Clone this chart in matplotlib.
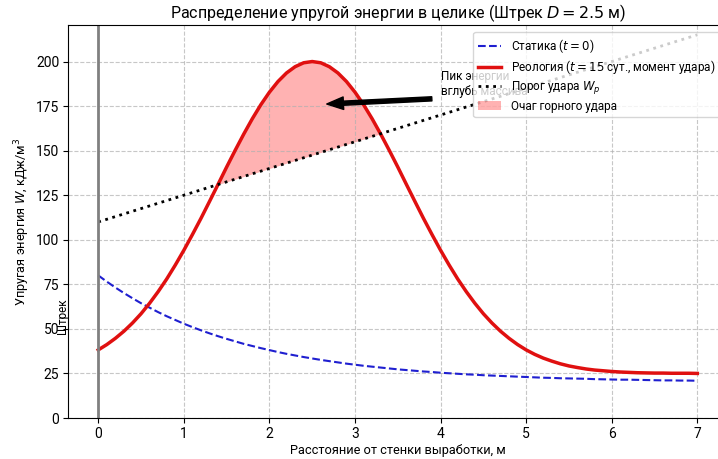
import numpy as np
import matplotlib
matplotlib.use('Agg')
import matplotlib.pyplot as plt

plt.rcParams['font.family'] = ['Roboto', 'DejaVu Sans']

# distance from the wall, m (0 .. 7 step 0.1)
dist = [round(0.1 * i, 1) for i in range(71)]

# elastic energy, kJ/m^3 -- static state
w_static = [80.0, 76.5, 73.2, 70.1, 67.2, 64.4, 61.9, 59.4, 57.1, 55.0,
            52.9, 51.0, 49.2, 47.5, 45.9, 44.4, 43.0, 41.6, 40.4, 39.2,
            38.1, 37.0, 36.0, 35.1, 34.2, 33.4, 32.6, 31.9, 31.2, 30.5,
            29.9, 29.3, 28.8, 28.3, 27.8, 27.3, 26.9, 26.5, 26.1, 25.8,
            25.4, 25.1, 24.8, 24.5, 24.3, 24.0, 23.8, 23.6, 23.4, 23.2,
            23.0, 22.8, 22.6, 22.5, 22.3, 22.2, 22.1, 22.0, 21.8, 21.7,
            21.6, 21.5, 21.5, 21.4, 21.3, 21.2, 21.1, 21.1, 21.0, 21.0,
            20.9]

# elastic energy, kJ/m^3 -- rheology, t = 15 days
w_rheo = [38.2, 41.2, 44.7, 48.7, 53.3, 58.5, 64.4, 70.9, 78.0, 85.8,
          94.1, 102.9, 112.0, 121.5, 131.1, 140.8, 150.2, 159.3, 167.9, 175.8,
          182.8, 188.8, 193.6, 197.1, 199.3, 200.0, 199.3, 197.1, 193.6, 188.8,
          182.8, 175.8, 167.9, 159.3, 150.2, 140.8, 131.1, 121.5, 112.0, 102.9,
          94.1, 85.8, 78.0, 70.9, 64.4, 58.5, 53.3, 48.7, 44.7, 41.2,
          38.2, 35.7, 33.6, 31.9, 30.4, 29.2, 28.3, 27.5, 26.9, 26.5,
          26.1, 25.8, 25.6, 25.4, 25.3, 25.2, 25.2, 25.1, 25.1, 25.1,
          25.0]

# burst threshold line
thr_x = [0.0, 7.0]
thr_y = [110.0, 215.0]

yticks = [0, 25, 50, 75, 100, 125, 150, 175, 200]

x = np.array(dist)
rheo = np.array(w_rheo)
thr = np.interp(x, thr_x, thr_y)

fig = plt.figure(figsize=(7.18, 4.59), dpi=100)
ax = fig.add_axes([68.3/718, 41/459, 659/718, 393/459])

ax.plot(dist, w_static, '--', color='#1f1fd0', lw=1.5, label='Статика ($t = 0$)')
ax.plot(dist, w_rheo, '-', color='#e01010', lw=2.5, label='Реология ($t = 15$ сут., момент удара)')
ax.plot(thr_x, thr_y, ':', color='black', lw=2, label='Порог удара $W_p$')
ax.fill_between(x, rheo, thr, where=rheo > thr, interpolate=True,
                color='red', alpha=0.3, lw=0, label='Очаг горного удара')

ax.axvline(0, color='gray', lw=2)
ax.text(-0.42, 57, 'Штрек', rotation=90, ha='center', va='center', fontsize=8.5)

ax.annotate('Пик энергии\nвглубь массива', xy=(2.6, 176), xytext=(4.0, 181),
            fontsize=8.5, arrowprops=dict(facecolor='black', shrink=0.05, width=3, headwidth=9))

ax.set_xlim(-0.35, 7.35)
ax.set_ylim(0, 220.5)
ax.set_yticks(yticks)
ax.set_xticks(range(8))
ax.grid(True, linestyle='--', alpha=0.7)
ax.tick_params(labelsize=10, pad=3)

ax.set_title('Распределение упругой энергии в целике (Штрек $D = 2.5$ м)', fontsize=11.5, pad=5)
ax.set_xlabel('Расстояние от стенки выработки, м', fontsize=9.2, labelpad=2)
ax.set_ylabel('Упругая энергия $W$, кДж/м$^3$', fontsize=9.2, labelpad=3)
ax.legend(loc='upper right', fontsize=8.5, labelspacing=0.28, borderaxespad=0.6)

fig.savefig('out.png', dpi=100)
